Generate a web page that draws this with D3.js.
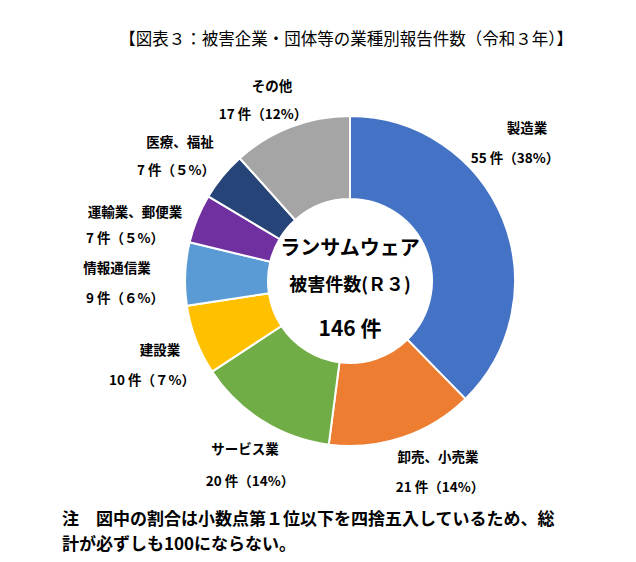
<!DOCTYPE html>
<html><head><meta charset="utf-8">
<script src="https://cdn.jsdelivr.net/npm/d3@7"></script>
<style>body{margin:0;background:#fff}text{font-family:"Noto Sans CJK JP","Noto Sans",sans-serif}</style>
</head><body><div id="chart"></div>
<script>
var categories = ["製造業","卸売、小売業","サービス業","建設業","情報通信業","運輸業、郵便業","医療、福祉","その他"];
var counts = [55,21,20,10,9,7,7,17];
var pctLabels = ["55 件（38%）","21 件（14%）","20 件（14%）","10 件（７%）","9 件（６%）","7 件（５%）","7 件（５%）","17 件（12%）"];
var colors = ["#4472C4","#ED7D31","#70AD47","#FFC000","#5B9BD5","#7030A0","#264478","#A5A5A5"];
// label layout (name x,y / value x,y)
var labelPos = [[527,128,515,158],[438,457,440,487],[245,449,250,481],[160,350,152,380],
  [117,268,125,298],[135,212,125,238],[180,142,176,170],[272,86,263,114]];

var svg = d3.select("#chart").append("svg").attr("width",636).attr("height",562);
svg.append("text").attr("x",346).attr("y",45).attr("text-anchor","middle")
  .attr("font-size",16.5).text("【図表３：被害企業・団体等の業種別報告件数（令和３年）】");

var cx = 350, cy = 281;
var pie = d3.pie().sort(null).value(function(d){return d;});
var arc = d3.arc().innerRadius(82).outerRadius(165);
var g = svg.append("g").attr("transform","translate("+cx+","+cy+")");
g.selectAll("path").data(pie(counts)).enter().append("path")
  .attr("d",arc).attr("fill",function(d,i){return colors[i];})
  .attr("stroke","#fff").attr("stroke-width",2);

g.append("text").attr("y",-26).attr("text-anchor","middle").attr("font-size",20).attr("font-weight","bold").text("ランサムウェア");
g.append("text").attr("y",10).attr("text-anchor","middle").attr("font-size",18).attr("font-weight","bold").text("被害件数(Ｒ３)");
g.append("text").attr("y",55).attr("text-anchor","middle").attr("font-size",21).attr("font-weight","bold").text("146 件");

categories.forEach(function(c,i){
  var p = labelPos[i];
  svg.append("text").attr("x",p[0]).attr("y",p[1]+5).attr("text-anchor","middle")
    .attr("font-size",13.5).attr("font-weight","bold").text(c);
  svg.append("text").attr("x",p[2]).attr("y",p[3]+5).attr("text-anchor","middle")
    .attr("font-size",13.5).attr("font-weight","bold").text(pctLabels[i]);
});

svg.append("text").attr("x",62).attr("y",525).attr("font-size",17).attr("font-weight","bold")
  .text("注　図中の割合は小数点第１位以下を四捨五入しているため、総");
svg.append("text").attr("x",62).attr("y",550).attr("font-size",17).attr("font-weight","bold")
  .text("計が必ずしも100にならない。");
</script></body></html>
